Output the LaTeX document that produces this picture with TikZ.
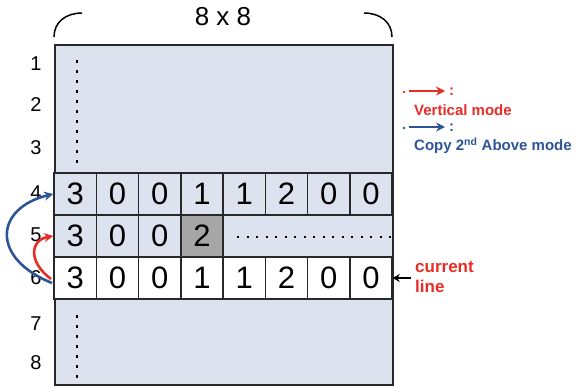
\documentclass[tikz,border=0pt]{standalone}
\usepackage{fontspec}
\setmainfont{Liberation Sans}
\usetikzlibrary{arrows.meta}
\definecolor{cellblue}{RGB}{220,227,238}
\definecolor{edge}{RGB}{40,40,40}
\definecolor{cellgray}{RGB}{166,166,166}
\definecolor{modered}{RGB}{232,45,38}
\definecolor{modeblue}{RGB}{47,84,150}
\tikzset{
  cell/.style={draw=edge, line width=1.5pt, minimum width=42.25pt, minimum height=42pt, inner sep=0pt, font=\fontsize{31}{31}\selectfont},
  rowlabel/.style={font=\fontsize{20}{20}\selectfont, inner sep=0pt},
  dotline/.style={line width=2.8pt, dash pattern=on 2.8pt off 7.2pt},
  legtext/.style={font=\bfseries\fontsize{15}{17}\selectfont, anchor=west, inner sep=0pt},
  modearrow/.style={line width=2.6pt, -{Stealth[length=9pt,width=9pt]}},
}
\begin{document}
\begin{tikzpicture}[x=1pt,y=-1pt]
\useasboundingbox (0,0) rectangle (575,386);
% main block
\node[draw=edge, line width=1.6pt, fill=cellblue, minimum width=338pt, minimum height=340pt, inner sep=0pt, anchor=north west] (grid) at (54,44) {};
% top label and braces
\node[font=\fontsize{26}{26}\selectfont] (size) at (223,17) {8 x 8};
\draw[line width=1.5pt] (54,37) .. controls (54,22) and (66,13) .. (82,13);
\draw[line width=1.5pt] (392,37) .. controls (392,22) and (380,13) .. (364,13);
% row labels
\foreach \n/\yy in {1/64,2/105,3/148,4/193,5/235,6/278,7/324,8/363}
  \node[rowlabel] (r\n) at (36,\yy) {\n};
% row 4
\foreach \v [count=\i] in {3,0,0,1,1,2,0,0}
  \node[cell, fill=cellblue] (a\i) at ({54+42.25*(\i-0.5)},194) {\v};
% row 5 frame
\node[draw=edge, line width=1.5pt, fill=cellblue, minimum width=338pt, minimum height=42pt, inner sep=0pt, anchor=west] (row5) at (54,236) {};
\foreach \v [count=\i] in {3,0,0}
  \node[cell, fill=cellblue] (b\i) at ({54+42.25*(\i-0.5)},236) {\v};
\node[cell, fill=cellgray] (b4) at ({54+42.25*3.5},236) {2};
% row 6
\foreach \v [count=\i] in {3,0,0,1,1,2,0,0}
  \node[cell, fill=white] (c\i) at ({54+42.25*(\i-0.5)},278) {\v};
% dotted lines
\draw[dotline] (77,60) -- (77,168);
\draw[dotline] (77,315) -- (77,378);
\draw[line width=2.4pt, dash pattern=on 2.4pt off 7.1pt] (237,237) -- (392,237);
% curved arrows
\coordinate (bs) at (52,283);
\coordinate (rs) at (51,279);
\draw[modeblue, modearrow] (bs) .. controls (-10,258) and (-5,208) .. (a1.west);
\draw[modered, modearrow] (rs) .. controls (28,262) and (30,240) .. (b1.west);
% legend
\fill[modered] (404,92) circle (1.4pt);
\coordinate (lr1) at (409,91);
\coordinate (lr2) at (445,91);
\draw[modered, modearrow] (lr1) -- (lr2);
\node[legtext, text=modered] (colr) at (449,92) {:};
\node[legtext, text=modered] (vm) at (414,110) {Vertical mode};
\fill[modeblue] (404,128) circle (1.4pt);
\coordinate (lb1) at (409,127);
\coordinate (lb2) at (445,127);
\draw[modeblue, modearrow] (lb1) -- (lb2);
\node[legtext, text=modeblue] (colb) at (449,128) {:};
\node[legtext, text=modeblue] (cm) at (414,146) {Copy 2\textsuperscript{nd} Above mode};
% current line
\node[font=\bfseries\fontsize{17}{20}\selectfont, text=modered, align=left, anchor=west, inner sep=0pt] (cur) at (415,277) {current\\line};
\draw[line width=2pt, -{Stealth[length=7pt,width=8pt]}] (cur.west) ++(-4,1) -- (c8.east);
\end{tikzpicture}
\end{document}
